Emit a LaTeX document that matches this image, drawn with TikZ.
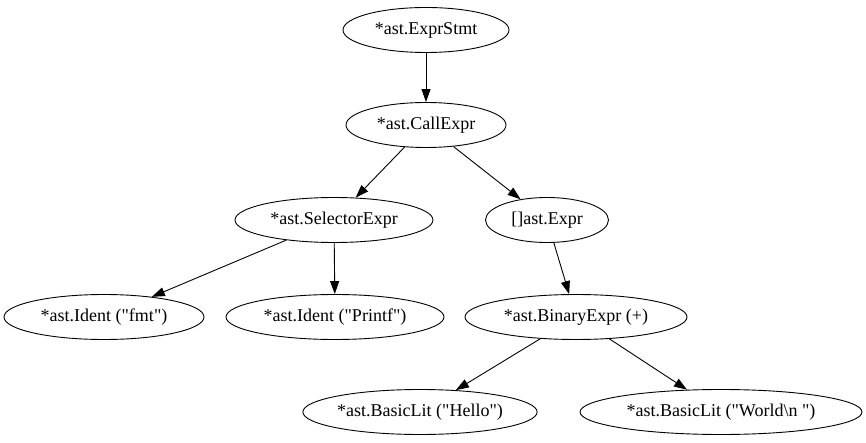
\documentclass[tikz,border=0pt]{standalone}
\usepackage{fontspec}
\newfontfamily\gvfont{Liberation Serif}
\usetikzlibrary{positioning, arrows.meta, shapes.geometric}

\begin{document}
\begin{tikzpicture}[x=1pt, y=-1pt,
    astnode/.style={draw, ellipse, line width=0.9pt, inner sep=0pt, minimum height=45pt, font=\gvfont\fontsize{18}{20}\selectfont},
    astedge/.style={-{Triangle[length=13pt, width=9pt]}, line width=0.9pt}]
        \useasboundingbox (0,0) rectangle (866,443);
        % rank 0 and 1
        \node[astnode, minimum width=166pt] (exprstmt) at (426,30) {*ast.ExprStmt};
        \node[astnode, minimum width=160pt] (callexpr) at (426,125) {*ast.CallExpr};
        % rank 2
        \node[astnode, minimum width=198pt] (selexpr)  at (334,220) {*ast.SelectorExpr};
        \node[astnode, minimum width=123pt] (exprlist) at (547,220) {[]ast.Expr};
        % rank 3
        \node[astnode, minimum width=200pt] (identfmt)    at (104,317) {*ast.Ident ("fmt")};
        \node[astnode, minimum width=218pt] (identprintf) at (335,317) {*ast.Ident ("Printf")};
        \node[astnode, minimum width=222pt] (binexpr)     at (576,317) {*ast.BinaryExpr (+)};
        % rank 4
        \node[astnode, minimum width=226pt] (lithello) at (420,412) {*ast.BasicLit ("Hello")};
        \node[astnode, minimum width=282pt] (litworld) at (721,412) {*ast.BasicLit ("World\textbackslash n ")};

        \draw[astedge] (exprstmt) -- (callexpr);
        \draw[astedge] (callexpr) -- (selexpr);
        \draw[astedge] (callexpr) -- (exprlist);
        \draw[astedge] (selexpr) -- (identfmt);
        \draw[astedge] (selexpr) -- (identprintf);
        \draw[astedge] (exprlist) -- (binexpr);
        \draw[astedge] (binexpr) -- (lithello);
        \draw[astedge] (binexpr) -- (litworld);
      \end{tikzpicture}
\end{document}
